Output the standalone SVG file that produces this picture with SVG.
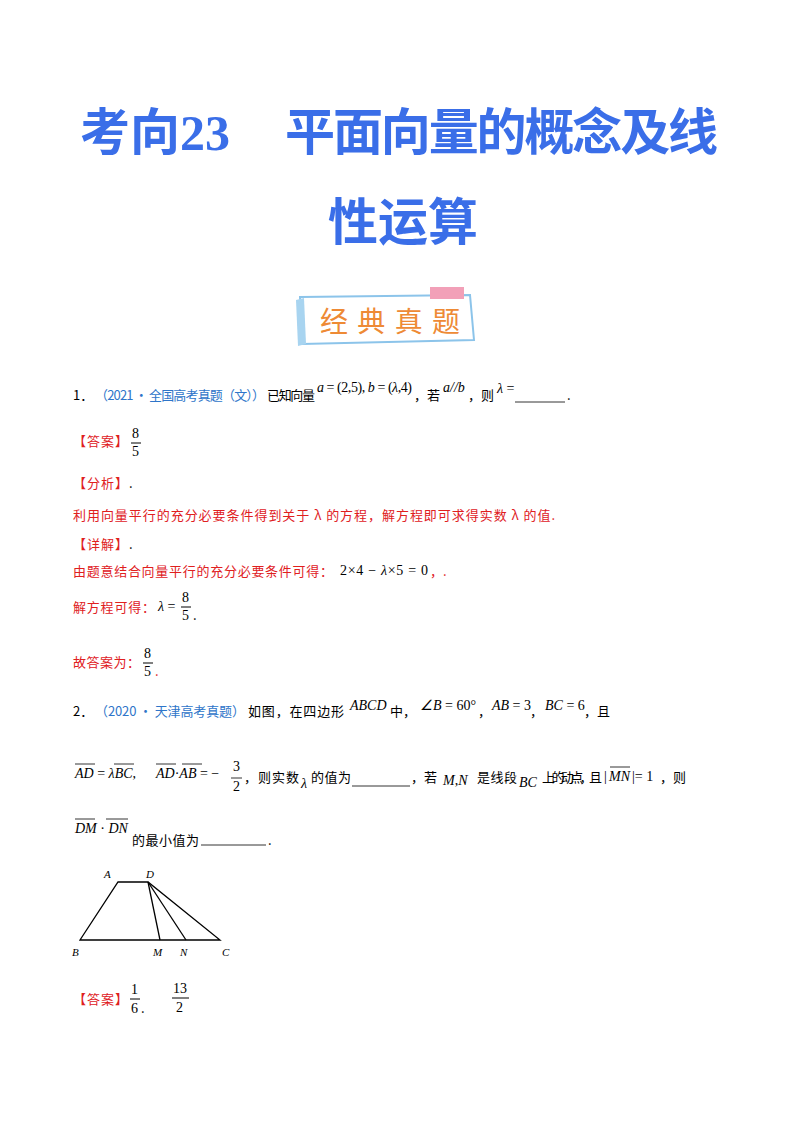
<svg xmlns="http://www.w3.org/2000/svg" width="800" height="1132" viewBox="0 0 800 1132">
<style>
.c{font-family:"Noto Sans CJK SC",sans-serif;font-size:13px;fill:#000}
.b{fill:#2e75c9}
.r{fill:#e0201e}
.m{font-family:"Liberation Serif",serif;font-style:italic;font-size:14px}
.n{font-family:"Liberation Serif",serif;font-size:14px;font-style:normal}
.ttl{font-family:"Liberation Serif","Noto Sans CJK SC",serif;font-weight:bold;font-size:50px;fill:#3a6ee8}
</style>
<rect width="800" height="1132" fill="#fff"/>
<text class="ttl" x="80" y="150">考向23</text>
<text class="ttl" x="285" y="150" textLength="433">平面向量的概念及线</text>
<text class="ttl" x="328" y="240">性运算</text>
<g id="banner">
<path d="M300 297 L470 295 L474 340 L302 344 Z" fill="#fff" stroke="#8cc4ea" stroke-width="2"/>
<path d="M296 300 L304 298 L306 344 L298 346 Z" fill="#a8d4f0"/>
<rect x="430" y="287" width="34" height="12" fill="#f2a0b8"/>
<text x="320" y="332" font-family="Noto Sans CJK SC,sans-serif" font-size="28" fill="#ee8a35" textLength="140">经典真题</text>
</g>
<g id="q1">
<text class="c" x="73" y="400">1．</text>
<text class="c b" x="95" y="400" textLength="170">（2021 • 全国高考真题（文））</text>
<text class="c" x="267" y="400" textLength="48">已知向量</text>
<text class="m" x="317" y="392" textLength="95">a <tspan class="n">= (2,5),</tspan> b <tspan class="n">= (</tspan>λ<tspan class="n">,4)</tspan></text>
<text class="c" x="414" y="400">，若</text>
<text class="m" x="443" y="392">a//b</text>
<text class="c" x="468" y="400">，则</text>
<text class="m" x="497" y="393">λ <tspan class="n">=</tspan></text>
<line x1="515" y1="402" x2="565" y2="402" stroke="#000" stroke-width="0.8"/>
<text class="c" x="567" y="400">.</text>
<text class="c r" x="73" y="446" textLength="55">【答案】</text>
<text class="n" x="132" y="438">8</text><line x1="131" y1="443" x2="141" y2="443" stroke="#000"/><text class="n" x="132" y="456">5</text>
<text class="c r" x="73" y="488" textLength="55">【分析】</text><text class="c" x="129" y="488">.</text>
<text class="c r" x="73" y="520" textLength="482">利用向量平行的充分必要条件得到关于 λ 的方程，解方程即可求得实数 λ 的值.</text>
<text class="c r" x="73" y="549" textLength="55">【详解】</text><text class="c" x="129" y="549">.</text>
<text class="c r" x="73" y="576" textLength="260">由题意结合向量平行的充分必要条件可得：</text>
<text class="n" x="340" y="575" textLength="88">2×4 − <tspan font-style="italic">λ</tspan>×5 = 0</text><text class="c r" x="430" y="576">，.</text>
<text class="c r" x="73" y="612" textLength="82">解方程可得：</text>
<text class="m" x="158" y="611">λ <tspan class="n">=</tspan></text>
<text class="n" x="182" y="602">8</text><line x1="181" y1="607" x2="191" y2="607" stroke="#000"/><text class="n" x="182" y="620">5</text><text class="c" x="193" y="620">.</text>
<text class="c r" x="73" y="667" textLength="67">故答案为：</text>
<text class="n" x="144" y="658">8</text><line x1="143" y1="663" x2="153" y2="663" stroke="#000"/><text class="n" x="144" y="676">5</text><text class="c r" x="155" y="676">.</text>
</g>
<g id="q2">
<text class="c" x="73" y="716">2．</text>
<text class="c b" x="95" y="716" textLength="150">（2020 • 天津高考真题）</text>
<text class="c" x="248" y="716" textLength="96">如图，在四边形</text>
<text class="m" x="350" y="710">ABCD</text><text class="c" x="390" y="716">中，</text>
<text class="m" x="420" y="710">∠B <tspan class="n">= 60°</tspan></text><text class="c" x="478" y="716">，</text>
<text class="m" x="492" y="710">AB <tspan class="n">= 3</tspan></text><text class="c" x="530" y="716">，</text>
<text class="m" x="545" y="710">BC <tspan class="n">= 6</tspan></text><text class="c" x="584" y="716">，且</text>
<g stroke="#000" stroke-width="0.8">
<line x1="75" y1="764" x2="95" y2="764"/><line x1="114" y1="764" x2="134" y2="764"/><line x1="156" y1="764" x2="176" y2="764"/><line x1="182" y1="764" x2="202" y2="764"/>
<line x1="231" y1="778" x2="242" y2="778"/>
<line x1="352" y1="786" x2="410" y2="786"/>
<line x1="610" y1="767" x2="630" y2="767"/>
<line x1="75" y1="819" x2="95" y2="819"/><line x1="106" y1="819" x2="128" y2="819"/>
<line x1="201" y1="845" x2="266" y2="845"/>
</g>
<text class="m" x="75" y="778">AD <tspan class="n">=</tspan> λBC<tspan class="n">,</tspan></text>
<text class="m" x="156" y="778">AD<tspan class="n">·</tspan>AB <tspan class="n">= −</tspan></text>
<text class="n" x="233" y="771">3</text><text class="n" x="233" y="791">2</text>
<text class="c" x="244" y="782" textLength="55">，则实数</text><text class="m" x="301" y="788">λ</text><text class="c" x="311" y="782" textLength="40">的值为</text>
<text class="c" x="411" y="782">，若</text><text class="m" x="443" y="785">M<tspan class="n">,</tspan>N</text>
<text class="c" x="477" y="782" textLength="40">是线段</text><text class="m" x="519" y="787">BC</text><text class="c" x="542" y="782" textLength="60">上的动点，且</text>
<text class="n" x="604" y="781">|</text><text class="m" x="609" y="781">MN</text><text class="n" x="632" y="781">|= 1</text><text class="c" x="660" y="782">，则</text>
<text class="m" x="75" y="833">DM <tspan class="n">·</tspan> DN</text>
<text class="c" x="132" y="845" textLength="67">的最小值为</text><text class="c" x="268" y="845">.</text>
</g>
<g id="figure" fill="none" stroke="#000" stroke-width="1.3">
<path d="M80 940 L118 882 L148 882 L220 940 Z"/>
<line x1="148" y1="882" x2="160" y2="940"/>
<line x1="148" y1="882" x2="186" y2="940"/>
</g>
<g class="m">
<text x="104" y="878" font-size="11">A</text><text x="146" y="878" font-size="11">D</text><text x="72" y="956" font-size="11">B</text><text x="153" y="956" font-size="11">M</text><text x="180" y="956" font-size="11">N</text><text x="222" y="956" font-size="11">C</text>
</g>
<text class="c r" x="73" y="1004" textLength="55">【答案】</text>
<text class="n" x="131" y="994">1</text><line x1="130" y1="999" x2="140" y2="999" stroke="#000"/><text class="n" x="131" y="1013">6</text><text class="c" x="141" y="1013">.</text>
<text class="n" x="173" y="993">13</text><line x1="172" y1="998" x2="189" y2="998" stroke="#000"/><text class="n" x="176" y="1012">2</text>
</svg>
